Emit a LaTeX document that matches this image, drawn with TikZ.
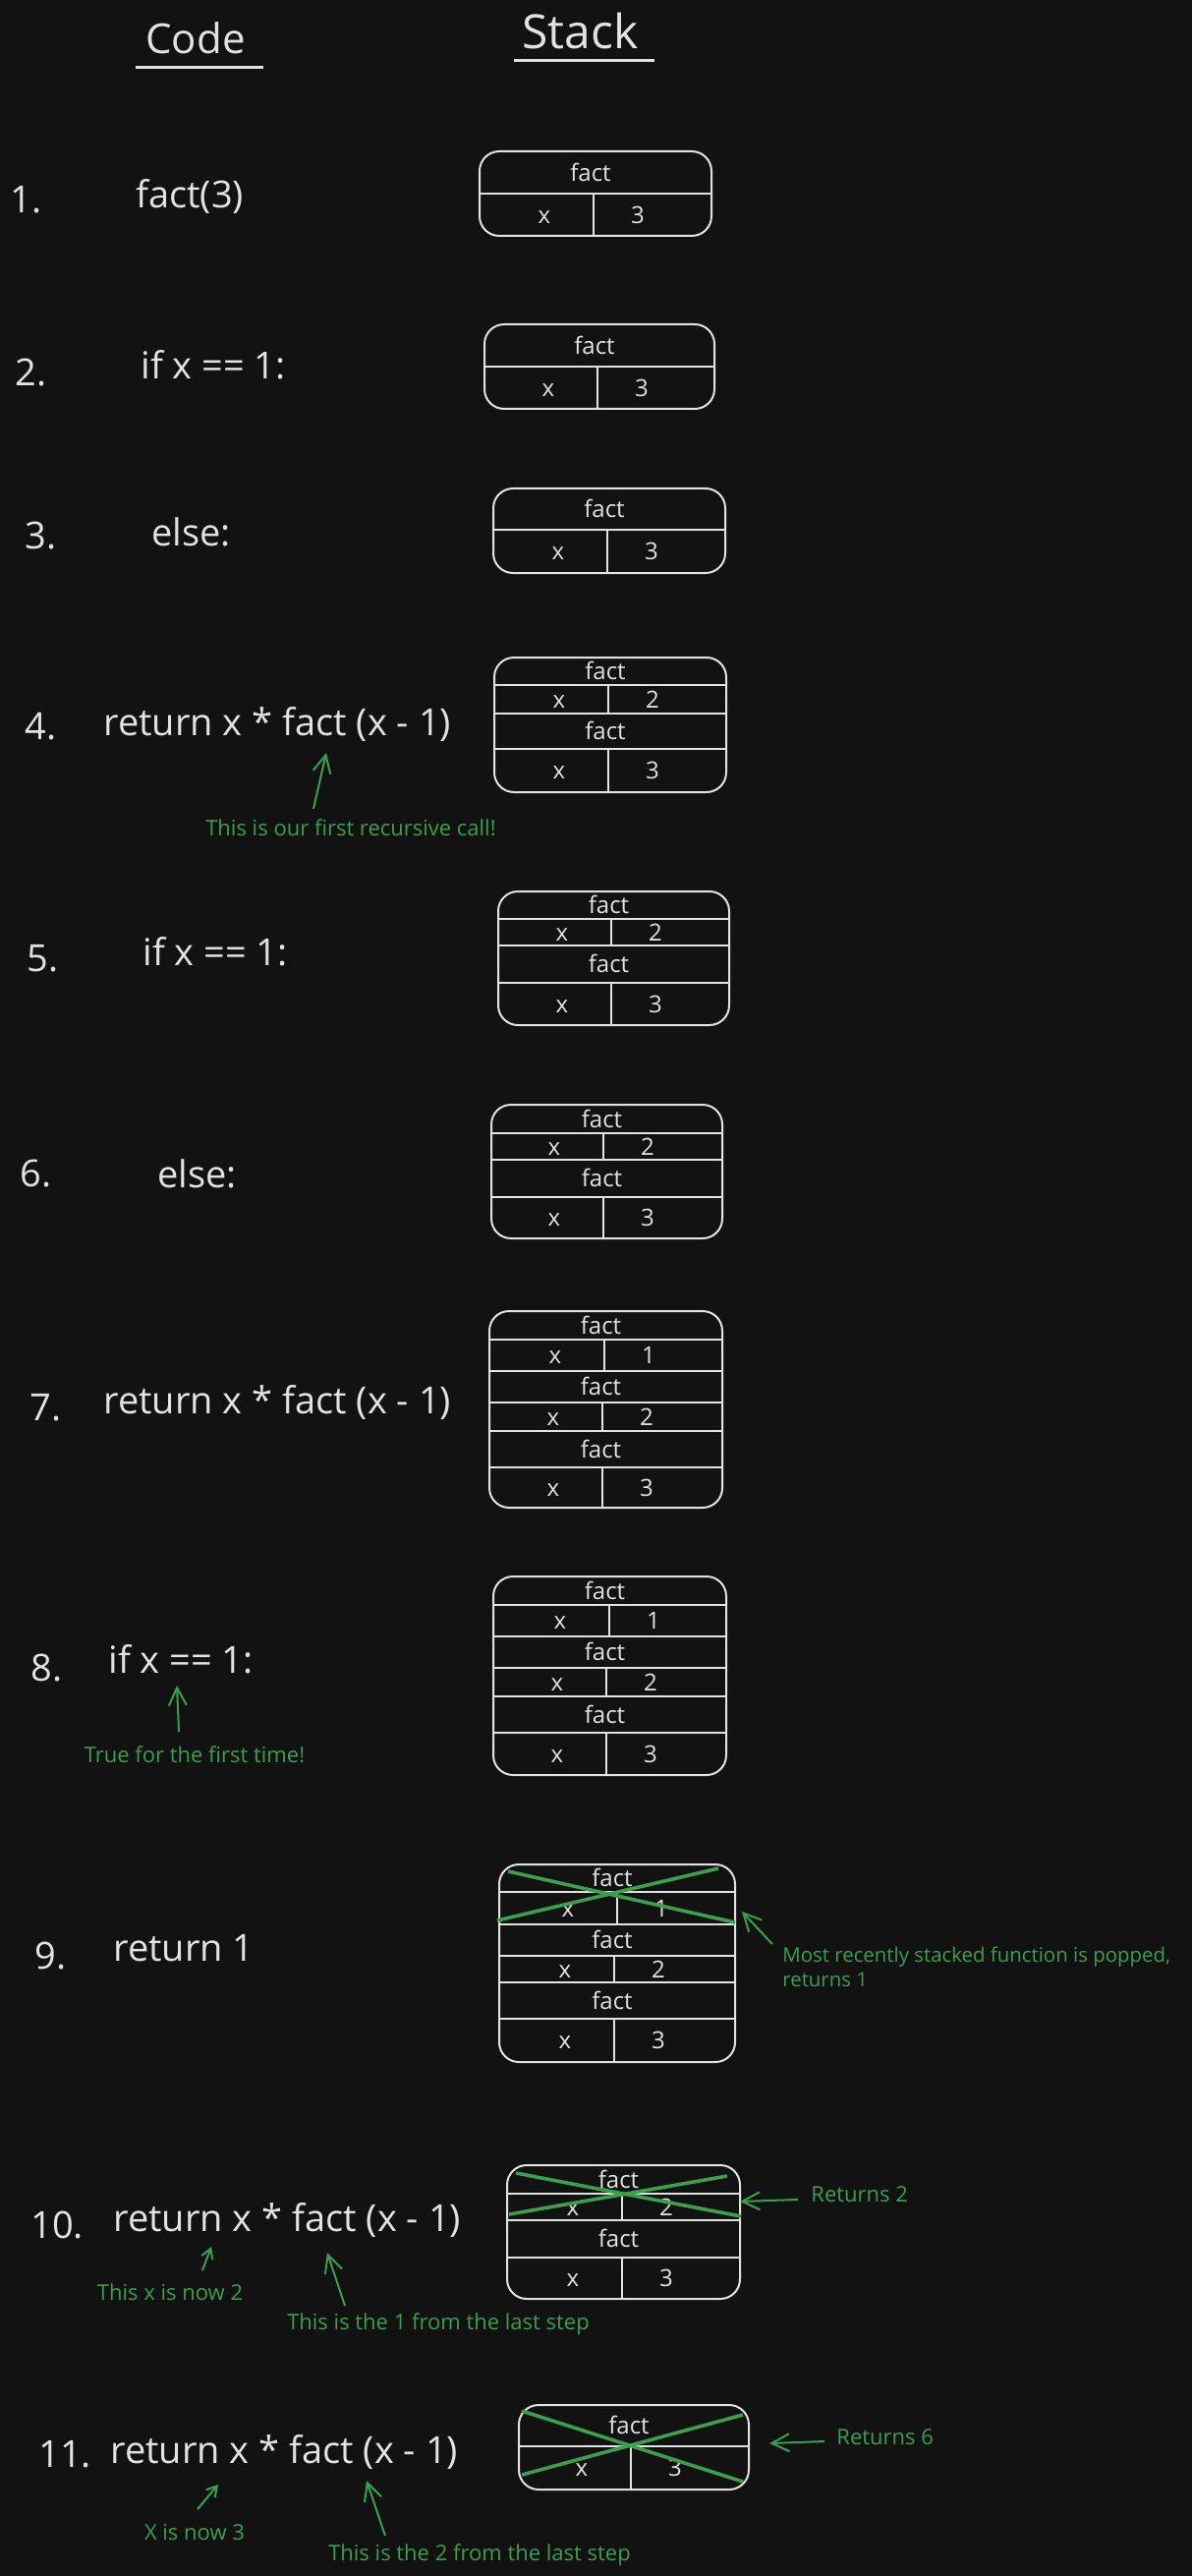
\documentclass[tikz,border=0pt]{standalone}
\usepackage{fontspec}
\setmainfont{Open Sans}
\usetikzlibrary{arrows.meta}
\definecolor{bgc}{HTML}{121212}
\definecolor{fg}{HTML}{E2E2E2}
\definecolor{grn}{HTML}{3AA04E}
\tikzset{
 codetxt/.style={text=fg, font=\fontsize{19}{23}\selectfont, anchor=base west, inner sep=0pt},
 headtxt/.style={text=fg, anchor=base west, inner sep=0pt},
 celltxt/.style={text=fg, font=\fontsize{12}{14}\selectfont, inner sep=0pt, text height=8.6pt, text depth=0pt},
 note/.style={text=grn, font=\fontsize{11}{12.5}\selectfont, inner sep=0pt},
 stkframe/.style={draw=fg, line width=1pt, rounded corners=10pt, inner sep=0pt, outer sep=0pt},
 divline/.style={draw=fg, line width=1.3pt},
 crossline/.style={draw=grn, line width=1.8pt},
 garrow/.style={draw=grn, line width=1pt, -{Straight Barb[length=9pt,width=9pt]}},
 sgarrow/.style={draw=grn, line width=1pt, -{Straight Barb[length=5pt,width=6pt]}},
 uline/.style={draw=fg, line width=1.5pt},
}
% box outline: name, x1, y1, x2, y2
\newcommand{\stkbox}[5]{\node[stkframe, minimum width={(#4-#2)*0.5pt}, minimum height={(#5-#3)*0.5pt}] (#1) at ({(#2+#4)/2},{(#3+#5)/2}) {};}
% one frame: prefix, x1, xm, x2, ytop, ymid, ybot, value
\newcommand{\frameRow}[8]{%
 \node[celltxt] (#1f) at ({(#2+#4)/2-5},{(#5+#6)/2}) {fact};
 \node[celltxt] (#1x) at ({#3-50},{(#6+#7)/2}) {x};
 \node[celltxt] (#1v) at ({#3+45},{(#6+#7)/2}) {#8};
 \draw[divline] (#2,#6) -- (#4,#6);
 \draw[divline] (#3,#6) -- (#3,#7);
}
\begin{document}
\begin{tikzpicture}[x=0.5pt,y=-0.5pt]
\fill[bgc] (0,0) rectangle (1213,2621);
\useasboundingbox (0,0) rectangle (1213,2621);

% headers
\node[headtxt, font=\fontsize{21}{25}\selectfont] (hcode) at (148,55) {Code};
\draw[uline] (138,69) -- (268,69);
\node[headtxt, font=\fontsize{24}{28}\selectfont] (hstack) at (531,50) {Stack};
\draw[uline] (523,62) -- (666,62);

% code column
\node[codetxt] (n1) at (10,217) {1.};
\node[codetxt] (c1) at (138,212) {fact(3)};
\node[codetxt] (n2) at (15,393) {2.};
\node[codetxt] (c2) at (143,386) {if x == 1:};
\node[codetxt] (n3) at (25,558) {3.};
\node[codetxt] (c3) at (154,555) {else:};
\node[codetxt] (n4) at (25,752) {4.};
\node[codetxt] (c4) at (105,748) {return x * fact (x - 1)};
\node[codetxt] (n5) at (27,988) {5.};
\node[codetxt] (c5) at (145,982) {if x == 1:};
\node[codetxt] (n6) at (20,1207) {6.};
\node[codetxt] (c6) at (160,1208) {else:};
\node[codetxt] (n7) at (30,1445) {7.};
\node[codetxt] (c7) at (105,1438) {return x * fact (x - 1)};
\node[codetxt] (n8) at (31,1710) {8.};
\node[codetxt] (c8) at (110,1702) {if x == 1:};
\node[codetxt] (n9) at (35,2003) {9.};
\node[codetxt] (c9) at (115,1995) {return 1};
\node[codetxt] (n10) at (31,2277) {10.};
\node[codetxt] (c10) at (115,2270) {return x * fact (x - 1)};
\node[codetxt] (n11) at (39,2510) {11.};
\node[codetxt] (c11) at (112,2506) {return x * fact (x - 1)};

% stacks
\stkbox{B1}{488}{154}{724}{240}
\frameRow{B1a}{488}{604}{724}{154}{197}{240}{3}

\stkbox{B2}{493}{330}{727}{416}
\frameRow{B2a}{493}{608}{727}{330}{373}{416}{3}

\stkbox{B3}{502}{497}{738}{583}
\frameRow{B3a}{502}{618}{738}{497}{539}{583}{3}

\stkbox{B4}{503}{669}{739}{806}
\frameRow{B4a}{503}{619}{739}{669}{697}{726}{2}
\draw[divline] (503,726) -- (739,726);
\frameRow{B4b}{503}{619}{739}{726}{762}{806}{3}

\stkbox{B5}{507}{907}{742}{1043}
\frameRow{B5a}{507}{622}{742}{907}{935}{962}{2}
\draw[divline] (507,962) -- (742,962);
\frameRow{B5b}{507}{622}{742}{962}{1000}{1043}{3}

\stkbox{B6}{500}{1124}{735}{1260}
\frameRow{B6a}{500}{614}{735}{1124}{1153}{1180}{2}
\draw[divline] (500,1180) -- (735,1180);
\frameRow{B6b}{500}{614}{735}{1180}{1218}{1260}{3}

\stkbox{B7}{498}{1334}{735}{1534}
\frameRow{B7a}{498}{615}{735}{1334}{1363}{1395}{1}
\draw[divline] (498,1395) -- (735,1395);
\frameRow{B7b}{498}{613}{735}{1395}{1427}{1456}{2}
\draw[divline] (498,1456) -- (735,1456);
\frameRow{B7c}{498}{613}{735}{1456}{1493}{1534}{3}

\stkbox{B8}{502}{1604}{739}{1806}
\frameRow{B8a}{502}{620}{739}{1604}{1633}{1665}{1}
\draw[divline] (502,1665) -- (739,1665);
\frameRow{B8b}{502}{617}{739}{1665}{1697}{1726}{2}
\draw[divline] (502,1726) -- (739,1726);
\frameRow{B8c}{502}{617}{739}{1726}{1763}{1806}{3}

\stkbox{B9}{508}{1897}{748}{2098}
\frameRow{B9a}{508}{628}{748}{1897}{1925}{1958}{1}
\draw[divline] (508,1958) -- (748,1958);
\frameRow{B9b}{508}{625}{748}{1958}{1990}{2017}{2}
\draw[divline] (508,2017) -- (748,2017);
\frameRow{B9c}{508}{625}{748}{2017}{2054}{2098}{3}

\stkbox{B10}{516}{2203}{753}{2339}
\frameRow{B10a}{516}{633}{753}{2203}{2232}{2259}{2}
\draw[divline] (516,2259) -- (753,2259);
\frameRow{B10b}{516}{633}{753}{2259}{2297}{2339}{3}

\stkbox{B11}{528}{2447}{762}{2533}
\frameRow{B11a}{528}{642}{762}{2447}{2489}{2533}{3}

% crosses (popped frames)
\draw[crossline] (517,1904) -- (748,1956);
\draw[crossline] (506,1954) -- (731,1901);
\draw[crossline] (525,2211) -- (754,2255);
\draw[crossline] (518,2253) -- (740,2214);
\draw[crossline] (531,2453) -- (756,2525);
\draw[crossline] (531,2518) -- (756,2457);

% notes
\node[note] (t4) at (357,842) {This is our first recursive call!};
\node[note] (t8) at (198,1785) {True for the first time!};
\node[note, font=\fontsize{10.2}{12.5}\selectfont, anchor=west, align=left] (t9) at (796,2001) {Most recently stacked function is popped,\\returns 1};
\node[note] (t10x) at (173,2332) {This x is now 2};
\node[note] (t10f) at (446,2365) {This is the 1 from the last step};
\node[note, anchor=west] (t10r) at (825,2233) {Returns 2};
\node[note, anchor=west] (t11r) at (851,2480) {Returns 6};
\node[note] (t11x) at (198,2577) {X is now 3};
\node[note] (t11f) at (488,2600) {This is the 2 from the last step};

% arrow ends
\coordinate (a4s) at (319,823);   \coordinate (a4e) at (332,766);
\coordinate (a8s) at (182,1762);  \coordinate (a8e) at (180,1715);
\coordinate (a9s) at (786,1978);  \coordinate (a9e) at (755,1945);
\coordinate (a10xs) at (206,2310); \coordinate (a10xe) at (215,2286);
\coordinate (a10fs) at (351,2346); \coordinate (a10fe) at (333,2292);
\coordinate (a10rs) at (812,2238); \coordinate (a10re) at (753,2240);
\coordinate (a11rs) at (839,2484); \coordinate (a11re) at (783,2486);
\coordinate (a11xs) at (201,2553); \coordinate (a11xe) at (222,2528);
\coordinate (a11fs) at (392,2580); \coordinate (a11fe) at (373,2524);

\draw[garrow] (a4s) -- (a4e);
\draw[garrow] (a8s) -- (a8e);
\draw[garrow] (a9s) -- (a9e);
\draw[sgarrow] (a10xs) -- (a10xe);
\draw[garrow] (a10fs) -- (a10fe);
\draw[garrow] (a10rs) -- (a10re);
\draw[garrow] (a11rs) -- (a11re);
\draw[sgarrow] (a11xs) -- (a11xe);
\draw[garrow] (a11fs) -- (a11fe);
\end{tikzpicture}
\end{document}
